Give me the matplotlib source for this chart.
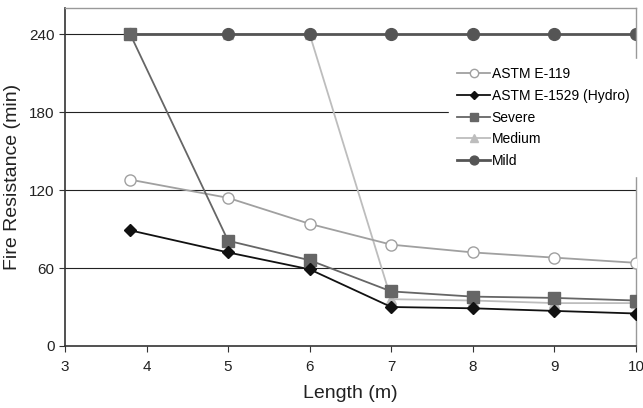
import matplotlib

matplotlib.use("Agg")
import matplotlib.pyplot as plt  # noqa: E402

plt.rcParams["font.family"] = ["Liberation Sans", "DejaVu Sans"]

length = [3.8, 5, 6, 7, 8, 9, 10]
astm_e119 = [128, 114, 94, 78, 72, 68, 64]
astm_e1529 = [89, 72, 59, 30, 29, 27, 25]
severe = [240, 81, 66, 42, 38, 37, 35]
medium = [240, 240, 240, 36, 35, 33, 33]
mild = [240, 240, 240, 240, 240, 240, 240]

fig = plt.figure(figsize=(6.43, 4.08), dpi=100)
ax = fig.add_axes([0.101, 0.152, 0.888, 0.828])

for y in (60, 120, 180, 240):
    ax.axhline(y, color="#222222", linewidth=0.8, zorder=0)

ax.plot(length, medium, color="#bdbdbd", marker="^", markersize=7,
        linewidth=1.3, label="Medium", zorder=1)
ax.plot(length, mild, color="#555555", marker="o", markersize=8.5, linewidth=2,
        label="Mild", zorder=2)
ax.plot(length, astm_e119, color="#a0a0a0", marker="o", markersize=8,
        markerfacecolor="white", markeredgewidth=1, linewidth=1.3,
        label="ASTM E-119", zorder=3)
ax.plot(length, severe, color="#666666", marker="s", markersize=8,
        linewidth=1.3, label="Severe", zorder=4)
ax.plot(length, astm_e1529, color="#111111", marker="D", markersize=6,
        linewidth=1.3, label="ASTM E-1529 (Hydro)", zorder=5)

handles, labels = ax.get_legend_handles_labels()
order = ["ASTM E-119", "ASTM E-1529 (Hydro)", "Severe", "Medium", "Mild"]
idx = [labels.index(o) for o in order]
leg = ax.legend([handles[i] for i in idx], [labels[i] for i in idx],
                loc="upper left", bbox_to_anchor=(0.66, 0.87), frameon=True,
                fancybox=False, edgecolor="white", framealpha=1,
                fontsize=10, handlelength=2.4, handletextpad=0.1,
                labelspacing=0.55, borderpad=0.6, markerscale=0.75)
leg.set_zorder(6)

ax.set_xlim(3, 10)
ax.set_ylim(0, 260)
ax.set_xticks(range(3, 11))
ax.set_yticks([0, 60, 120, 180, 240])
ax.tick_params(labelsize=11, direction="out", length=4, color="#333333",
               labelcolor="#222222")
ax.tick_params(axis="x", pad=6)
for side in ("left", "bottom"):
    ax.spines[side].set_color("#333333")
    ax.spines[side].set_linewidth(1.2)
for side in ("top", "right"):
    ax.spines[side].set_color("#999999")
    ax.spines[side].set_linewidth(1)

ax.set_xlabel("Length (m)", fontsize=14, color="#222222", labelpad=8)
ax.set_ylabel("Fire Resistance (min)", fontsize=14, color="#222222", labelpad=6)

fig.savefig("out.png", dpi=100)
plt.close(fig)
